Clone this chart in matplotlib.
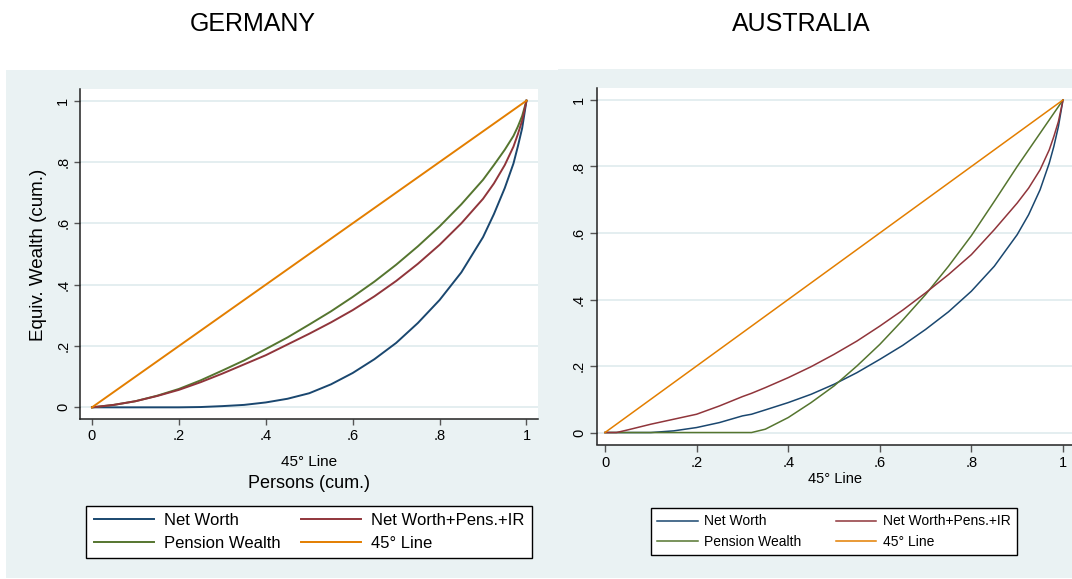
import matplotlib
matplotlib.use("Agg")
import matplotlib.pyplot as plt
from matplotlib.patches import Rectangle
from matplotlib import font_manager

# --- data ----------------------------------------------------------------------
de_x      = [0, .05, .1, .15, .2, .25, .3, .35, .4, .45, .5, .55, .6, .65, .7, .75,
             .8, .85, .9, .925, .95, .97, .98, .99, 1.0]
de_net    = [0, 0, 0, 0, 0, .001, .004, .008, .016, .028, .046, .075, .112, .157, .21, .275,
             .35, .44, .555, .63, .715, .795, .85, .91, 1.0]
de_netpen = [0, .008, .02, .037, .057, .082, .11, .14, .17, .205, .24, .277, .317, .362, .412, .468,
             .53, .60, .68, .73, .79, .85, .89, .935, 1.0]
de_pens   = [0, .008, .02, .038, .06, .088, .12, .153, .19, .228, .27, .313, .36, .41, .465, .525,
             .59, .662, .742, .79, .84, .885, .915, .95, 1.0]

au_x      = [0, .025, .05, .1, .15, .2, .25, .3, .32, .35, .4, .45, .5, .55, .6, .65, .7, .75,
             .8, .85, .9, .925, .95, .97, .98, .99, 1.0]
au_net    = [0, 0, 0, 0, .005, .015, .03, .05, .055, .068, .09, .115, .145, .18, .22, .262, .31, .363,
             .425, .50, .595, .655, .73, .81, .86, .92, 1.0]
au_netpen = [0, 0, .008, .025, .04, .055, .08, .108, .118, .135, .165, .198, .235, .275, .32, .368, .42, .475,
             .535, .61, .69, .735, .79, .85, .89, .935, 1.0]
au_pens   = [0, 0, 0, 0, 0, 0, 0, 0, 0, .01, .045, .09, .14, .2, .265, .338, .415, .5,
             .592, .695, .80, .85, .90, .94, .96, .98, 1.0]

diag = [0, 1]
ticks = [0, .2, .4, .6, .8, 1]
tick_labels = ["0", ".2", ".4", ".6", ".8", "1"]
names = ["Net Worth", "Pension Wealth", "Net Worth+Pens.+IR", "45° Line"]

NAVY, MAROON, GREEN, ORANGE = "#1a476f", "#90353b", "#55752f", "#e37e00"
BG, GRID = "#eaf2f3", "#e4eef0"

W, H = 1072, 579
fig = plt.figure(figsize=(W / 100, H / 100), dpi=100, facecolor="white")
plt.rcParams["font.family"] = ["Liberation Sans", "DejaVu Sans"]

_have = {f.name for f in font_manager.fontManager.ttflist}
if "Liberation Sans Narrow" in _have:
    RFONT, RSIZE = ["Liberation Sans Narrow", "Liberation Sans"], 12
else:
    RFONT, RSIZE = ["Liberation Sans", "DejaVu Sans"], 10


def px(x, y):
    return x / W, 1 - y / H


def box(x0, y0, x1, y1):
    return [x0 / W, 1 - y1 / H, (x1 - x0) / W, (y1 - y0) / H]


# light panel backgrounds (Stata graph region)
fig.add_artist(Rectangle(px(6, 578), 552 / W, 508 / H, transform=fig.transFigure,
                         fc=BG, ec="none", zorder=0))
fig.add_artist(Rectangle(px(558, 578), 514 / W, 509 / H, transform=fig.transFigure,
                         fc=BG, ec="none", zorder=0))

fig.text(*px(253, 24), "GERMANY", ha="center", va="center", fontsize=18)
fig.text(*px(801, 24), "AUSTRALIA", ha="center", va="center", fontsize=18)


def panel(rect, xlim, ylim, xs, series, lw, fam, fs, tlen):
    ax = fig.add_axes(rect)
    ax.set_facecolor("white")
    for s in ("top", "right"):
        ax.spines[s].set_visible(False)
    for s in ("left", "bottom"):
        ax.spines[s].set_color("#222222")
        ax.spines[s].set_linewidth(1.1)
    ax.set_xlim(*xlim); ax.set_ylim(*ylim)
    ax.set_xticks(ticks); ax.set_yticks(ticks)
    ax.set_xticklabels(tick_labels, fontfamily=fam, fontsize=fs)
    ax.set_yticklabels(tick_labels, fontfamily=fam, fontsize=fs, rotation=90, va="center")
    ax.tick_params(length=tlen, width=1.0, color="#555555", pad=3)
    ax.yaxis.grid(True, color=GRID, lw=1.4)
    ax.set_axisbelow(True)
    cols = [NAVY, GREEN, MAROON]
    hs = []
    for ys, c in zip(series, cols):
        hs.append(ax.plot(xs, ys, color=c, lw=lw, zorder=3)[0])
    hs.append(ax.plot(diag, diag, color=ORANGE, lw=lw, zorder=4)[0])
    return ax, hs


# ---- Germany ----
axL, hL = panel(box(80, 89, 538, 419), (-0.0276, 1.0265), (-0.038, 1.038),
                de_x, [de_net, de_pens, de_netpen], 1.4, ["Liberation Sans"], 10.5, 4)
axL.set_xlabel("45° Line", fontsize=11, labelpad=9)
fig.text(*px(309, 483), "Persons (cum.)", ha="center", va="center", fontsize=13)
fig.text(*px(38.6, 255), "Equiv. Wealth (cum.)", ha="center", va="center",
         rotation=90, fontsize=13.5)
legL = axL.legend(hL, names, ncol=2, mode="expand", loc="center",
                  bbox_to_anchor=box(86, 503, 532, 561), bbox_transform=fig.transFigure,
                  fontsize=12, frameon=True, fancybox=False, edgecolor="black",
                  framealpha=1, borderpad=0.45, handlelength=3.6, handletextpad=0.6,
                  labelspacing=0.45, borderaxespad=0)
legL.get_frame().set_linewidth(1.0)

# ---- Australia ----
axR, hR = panel(box(597, 88, 1072, 444.5), (-0.0175, 1.0197), (-0.036, 1.036),
                au_x, [au_net, au_pens, au_netpen], 1.1, RFONT, RSIZE + 0.5, 5)
axR.set_xlabel("45° Line", fontfamily=RFONT, fontsize=RSIZE + 0.5, labelpad=2)
legR = axR.legend(hR, names, ncol=2, mode="expand", loc="center",
                  bbox_to_anchor=box(651, 503, 1017, 560), bbox_transform=fig.transFigure,
                  prop={"family": RFONT, "size": RSIZE}, frameon=True, fancybox=False,
                  edgecolor="black", framealpha=1, borderpad=0.45, handlelength=2.9,
                  handletextpad=0.5, labelspacing=0.45, borderaxespad=0)
legR.get_frame().set_linewidth(1.0)

fig.savefig("out.png", dpi=100, facecolor="white")
